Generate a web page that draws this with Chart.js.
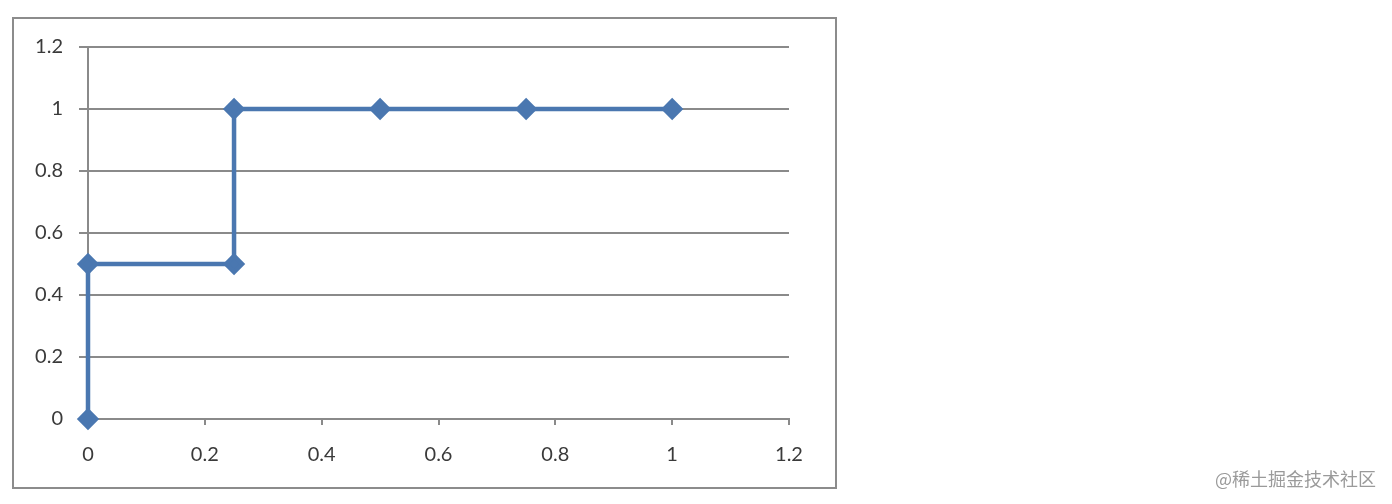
<!DOCTYPE html>
<html><head><meta charset="utf-8">
<script src="https://cdn.jsdelivr.net/npm/chart.js@4"></script>
<style>
html,body{margin:0;padding:0;background:#fff;}
#wrap{position:relative;width:1392px;height:504px;}
#box{position:absolute;left:12px;top:17px;width:821px;height:468px;border:2px solid #8c8c8c;}
#c{position:absolute;left:0;top:0;}
#wm{position:absolute;left:1215px;top:465px;font-family:"Noto Sans CJK SC",sans-serif;font-size:18px;color:#9a9a9a;}
</style></head>
<body><div id="wrap"><div id="box"></div><canvas id="c" width="1392" height="504"></canvas><div id="wm">@稀土掘金技术社区</div></div>
<script>
const xValues = [0, 0, 0.25, 0.25, 0.5, 0.75, 1];
const yValues = [0, 0.5, 0.5, 1, 1, 1, 1];
const tickLabels = ['0', '0.2', '0.4', '0.6', '0.8', '1', '1.2'];

const points = xValues.map((x, i) => ({x: x, y: yValues[i]}));
const font = {family: 'Lato', size: 20};
new Chart(document.getElementById('c'), {
  type: 'scatter',
  data: {datasets: [{
    data: points, showLine: true, borderColor: '#4a77b0', backgroundColor: '#4a77b0',
    borderWidth: 4.5, pointStyle: 'rectRot', pointRadius: 8, pointHoverRadius: 8, clip: false
  }]},
  options: {
    responsive: false, animation: false, events: [],
    layout: {padding: {left: 18, right: 603, top: 47, bottom: 0}},
    plugins: {legend: {display: false}, tooltip: {enabled: false}},
    scales: {
      x: {type: 'linear', min: 0, max: 1.2,
        afterFit: s => { s.height = 85; },
        afterBuildTicks: s => { s.ticks = tickLabels.map(Number).map(v => ({value: v})); },
        ticks: {font: font, color: '#3a3a3a', padding: 18, maxRotation: 0,
          callback: (v) => tickLabels[Math.round(v / 0.2)]},
        grid: {drawOnChartArea: false, tickLength: 6, color: '#8a8a8a', lineWidth: 2},
        border: {color: '#8a8a8a', width: 2}
      },
      y: {type: 'linear', min: 0, max: 1.2,
        afterFit: s => { s.width = 70; },
        afterBuildTicks: s => { s.ticks = tickLabels.map(Number).map(v => ({value: v})); },
        ticks: {font: font, color: '#3a3a3a', padding: 16,
          callback: (v) => tickLabels[Math.round(v / 0.2)]},
        grid: {tickLength: 9, color: '#8a8a8a', lineWidth: 2},
        border: {color: '#8a8a8a', width: 2}
      }
    }
  }
});
</script></body></html>
